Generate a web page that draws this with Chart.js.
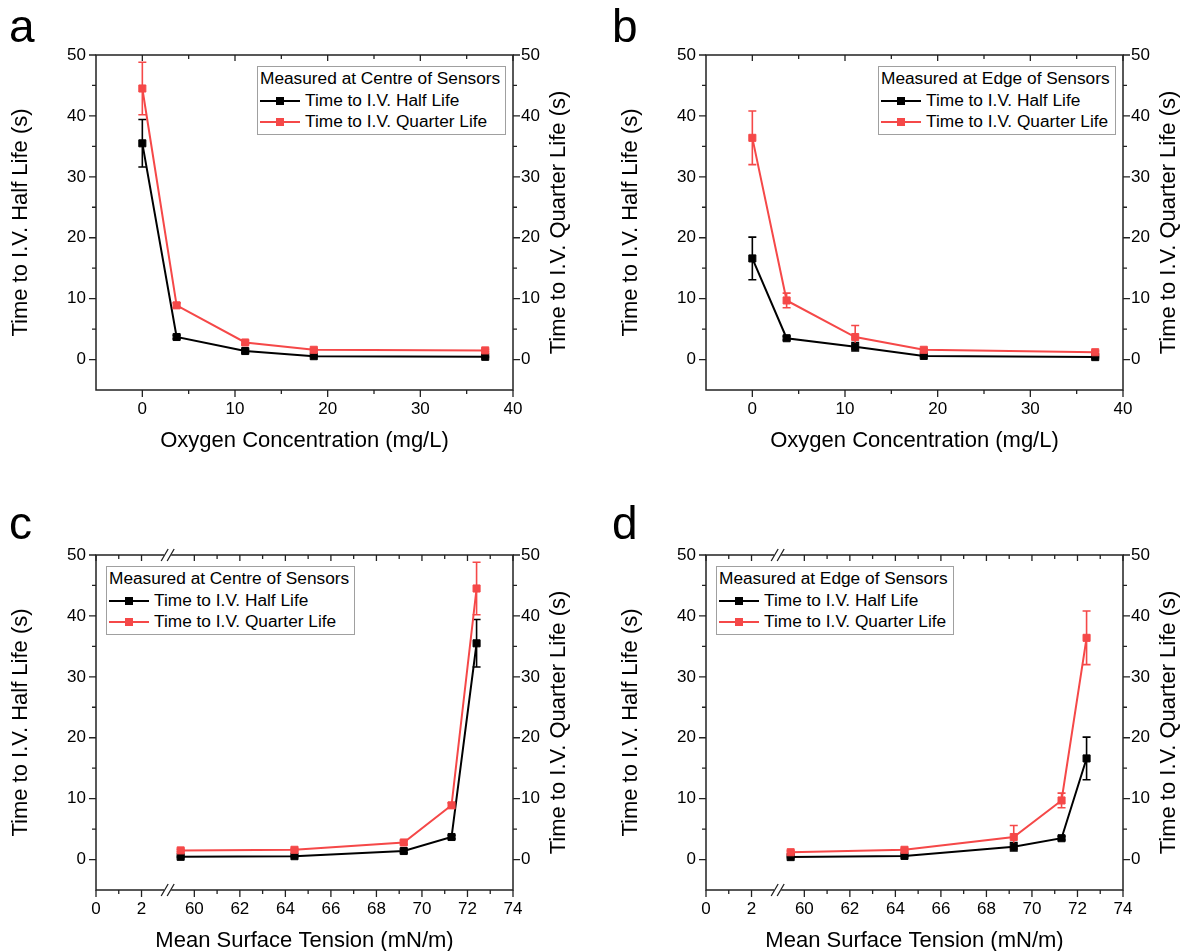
<!DOCTYPE html>
<html>
<head>
<meta charset="utf-8">
<script src="https://cdn.jsdelivr.net/npm/chart.js@4.4.1/dist/chart.umd.min.js"></script>
<style>
  html, body { margin: 0; padding: 0; background: #fff; overflow: hidden; }
  #wrap { position: relative; width: 1182px; height: 951px; overflow: hidden; font-family: 'Liberation Sans', Arial, sans-serif; }
  canvas { position: absolute; }
  .letter { position: absolute; font-size: 46px; line-height: 46px; color: #000; }
  .legend { position: absolute; border: 1px solid #a0a0a0; background: #fff; padding: 1px 5px 1px 2px;
            font-size: 17.3px; line-height: 21.5px; color: #000; white-space: nowrap; }
  .sw { display: inline-block; position: relative; width: 40px; height: 21px; vertical-align: top; margin-right: 5px; }
  .sw i { position: absolute; left: 0; right: 0; top: 10px; height: 2px; background: currentColor; }
  .sw b { position: absolute; left: 16px; top: 7px; width: 8px; height: 8px; background: currentColor; }
  .blk { color: #000; }
  .red { color: #f54848; }
  .legend span.txt { color: #000; }
</style>
</head>
<body>
<div id="wrap">
  <canvas id="ca" width="591" height="460" style="left:0;top:0"></canvas>
  <canvas id="cb" width="591" height="460" style="left:610px;top:0"></canvas>
  <canvas id="cc" width="591" height="460" style="left:0;top:500px"></canvas>
  <canvas id="cd" width="591" height="460" style="left:610px;top:500px"></canvas>
  <div class="letter" style="left:9px;top:3px">a</div>
  <div class="letter" style="left:612px;top:3px">b</div>
  <div class="letter" style="left:9px;top:500px">c</div>
  <div class="letter" style="left:612px;top:500px">d</div>
</div>
<script>
const oxygen = [0, 3.7, 11.1, 18.5, 37.0];
const tension = [72.4, 71.3, 69.2, 64.4, 59.4];

const centreHalf = [35.5, 3.7, 1.4, 0.55, 0.45];
const centreHalfErr = [3.9, 0.3, 0.3, 0.1, 0.1];
const centreQuarter = [44.5, 8.9, 2.8, 1.6, 1.5];
const centreQuarterErr = [4.3, 0.4, 0.3, 0.2, 0.2];

const edgeHalf = [16.6, 3.5, 2.1, 0.6, 0.4];
const edgeHalfErr = [3.5, 0.3, 0.7, 0.1, 0.1];
const edgeQuarter = [36.4, 9.7, 3.7, 1.6, 1.2];
const edgeQuarterErr = [4.4, 1.2, 1.9, 0.2, 0.2];

const oxygenTicks = [0, 10, 20, 30, 40];
const oxygenMinor = [5, 15, 25, 35];
const tensionTicks = [0, 2, 60, 62, 64, 66, 68, 70, 72, 74];
const tensionMinor = [1, 61, 63, 65, 67, 69, 71, 73];
const timeTicks = [0, 10, 20, 30, 40, 50];
const timeMinor = [5, 15, 25, 35, 45];

const halfName = 'Time to I.V. Half Life';
const quarterName = 'Time to I.V. Quarter Life';
const centreTitle = 'Measured at Centre of Sensors';
const edgeTitle = 'Measured at Edge of Sensors';

const leftTitle = 'Time to I.V. Half Life (s)';
const rightTitle = 'Time to I.V. Quarter Life (s)';
const oxygenTitle = 'Oxygen Concentration (mg/L)';
const tensionTitle = 'Mean Surface Tension (mN/m)';

const RED = '#f54848';
const FONT = "'Liberation Sans', Arial, sans-serif";

// broken axis: 0..3 then 58..74 squeezed next to it
const BREAK_SHIFT = 55.68;
const toVirtual = v => v > 30 ? v - BREAK_SHIFT : v;

function makeFrame(mapX, xCfg) {
  return {
    id: 'frame',
    afterDraw(chart) {
      const {ctx, chartArea: {left, right, top, bottom}, scales} = chart;
      ctx.save();
      ctx.strokeStyle = '#222';
      ctx.lineWidth = 1.5;
      ctx.strokeRect(left, top, right - left, bottom - top);

      ctx.lineWidth = 1.3;
      ctx.beginPath();
      const xt = (list, out, inn) => list.forEach(v => {
        const px = scales.x.getPixelForValue(mapX(v));
        ctx.moveTo(px, bottom); ctx.lineTo(px, bottom + out);
        ctx.moveTo(px, top); ctx.lineTo(px, top + inn);
      });
      const yt = (list, len) => list.forEach(v => {
        const py = scales.y.getPixelForValue(v);
        ctx.moveTo(left, py); ctx.lineTo(left - len, py);
        ctx.moveTo(right, py); ctx.lineTo(right + len, py);
      });
      xt(xCfg.ticks, 7, 6);
      xt(xCfg.minor, 4, 4);
      yt(timeTicks, 7);
      yt(timeMinor, 4);
      ctx.stroke();

      if (xCfg.breakAt != null) {
        const px = scales.x.getPixelForValue(xCfg.breakAt);
        [bottom, top].forEach(y => {
          ctx.fillStyle = '#fff';
          ctx.fillRect(px - 4, y - 2, 7, 4);
          ctx.beginPath();
          for (let i = 0; i < 2; i++) {
            const x0 = px - 7 + i * 6;
            ctx.moveTo(x0, y + 6);
            ctx.lineTo(x0 + 7, y - 6);
          }
          ctx.stroke();
        });
      }

      ctx.fillStyle = '#000';
      ctx.font = '22px ' + FONT;
      ctx.textAlign = 'center';
      ctx.textBaseline = 'middle';
      ctx.translate(right + 46, (top + bottom) / 2);
      ctx.rotate(-Math.PI / 2);
      ctx.fillText(rightTitle, 0, 0);
      ctx.restore();
    }
  };
}

function makeErrorBars(errs) {
  return {
    id: 'errorBars',
    beforeDatasetsDraw(chart) {
      const {ctx, scales} = chart;
      chart.data.datasets.forEach((ds, i) => {
        const meta = chart.getDatasetMeta(i);
        ctx.save();
        ctx.strokeStyle = ds.borderColor;
        ctx.lineWidth = 1.6;
        meta.data.forEach((pt, j) => {
          const e = errs[i][j];
          const y = ds.data[j].y;
          const y1 = scales.y.getPixelForValue(y + e);
          const y2 = scales.y.getPixelForValue(y - e);
          ctx.beginPath();
          ctx.moveTo(pt.x, y1); ctx.lineTo(pt.x, y2);
          ctx.moveTo(pt.x - 4, y1); ctx.lineTo(pt.x + 4, y1);
          ctx.moveTo(pt.x - 4, y2); ctx.lineTo(pt.x + 4, y2);
          ctx.stroke();
        });
        ctx.restore();
      });
    }
  };
}

function order(xs, mapX) {
  return xs.map((x, i) => i).sort((a, b) => mapX(xs[a]) - mapX(xs[b]));
}

function makePanel(id, xs, mapX, half, halfErr, quarter, quarterErr, xCfg) {
  const idx = order(xs, mapX);
  const pts = ys => idx.map(i => ({x: mapX(xs[i]), y: ys[i]}));
  const errs = [idx.map(i => halfErr[i]), idx.map(i => quarterErr[i])];
  const tickFont = {family: FONT, size: 17};
  const titleFont = {family: FONT, size: 22};
  const noGrid = {display: false, drawTicks: false};
  new Chart(document.getElementById(id), {
    type: 'line',
    data: {
      datasets: [
        {
          label: halfName,
          data: pts(half),
          borderColor: '#000',
          backgroundColor: '#000',
          borderWidth: 2,
          pointStyle: 'rect',
          pointRadius: 5,
          pointBorderWidth: 1,
          order: 1
        },
        {
          label: quarterName,
          data: pts(quarter),
          borderColor: RED,
          backgroundColor: RED,
          borderWidth: 2,
          pointStyle: 'rect',
          pointRadius: 5,
          pointBorderWidth: 1,
          order: 0
        }
      ]
    },
    options: {
      responsive: false,
      animation: false,
      devicePixelRatio: 1,
      layout: {padding: {top: 55, left: 0, right: 0, bottom: 6}},
      plugins: {
        legend: {display: false},
        tooltip: {enabled: false}
      },
      scales: {
        x: {
          type: 'linear',
          min: xCfg.min,
          max: xCfg.max,
          afterBuildTicks: s => { s.ticks = xCfg.ticks.map(v => ({value: mapX(v)})); },
          afterFit: s => { s.height = 64; },
          grid: noGrid,
          border: {display: false},
          ticks: {
            font: tickFont, color: '#000', padding: 9, maxRotation: 0, autoSkip: false,
            callback: (v, i) => xCfg.ticks[i]
          },
          title: {display: true, text: xCfg.title, font: titleFont, color: '#000', padding: {top: 0, bottom: 0}}
        },
        y: {
          type: 'linear',
          position: 'left',
          min: -5,
          max: 50,
          afterBuildTicks: s => { s.ticks = timeTicks.map(v => ({value: v})); },
          afterFit: s => { s.width = 96; },
          grid: noGrid,
          border: {display: false},
          ticks: {font: tickFont, color: '#000', padding: 10},
          title: {display: true, text: leftTitle, font: titleFont, color: '#000', padding: {top: 8, bottom: 0}}
        },
        y2: {
          type: 'linear',
          position: 'right',
          min: -5,
          max: 50,
          afterBuildTicks: s => { s.ticks = timeTicks.map(v => ({value: v})); },
          afterFit: s => { s.width = 78; },
          grid: noGrid,
          border: {display: false},
          ticks: {font: tickFont, color: '#000', padding: 8}
        }
      }
    },
    plugins: [makeErrorBars(errs), makeFrame(mapX, xCfg)]
  });
}

function makeLegend(left, top, title) {
  const div = document.createElement('div');
  div.className = 'legend';
  div.style.left = left + 'px';
  div.style.top = top + 'px';
  div.innerHTML =
    '<div>' + title + '</div>' +
    '<div><span class="sw blk"><i></i><b></b></span><span class="txt">' + halfName + '</span></div>' +
    '<div><span class="sw red"><i></i><b></b></span><span class="txt">' + quarterName + '</span></div>';
  document.getElementById('wrap').appendChild(div);
}

const same = v => v;
const oxygenAxis = {min: -5, max: 40, ticks: oxygenTicks, minor: oxygenMinor, breakAt: null, title: oxygenTitle};
const tensionAxis = {min: 0, max: toVirtual(74), ticks: tensionTicks, minor: tensionMinor, breakAt: 3.17, title: tensionTitle};

makePanel('ca', oxygen, same, centreHalf, centreHalfErr, centreQuarter, centreQuarterErr, oxygenAxis);
makePanel('cb', oxygen, same, edgeHalf, edgeHalfErr, edgeQuarter, edgeQuarterErr, oxygenAxis);
makePanel('cc', tension, toVirtual, centreHalf, centreHalfErr, centreQuarter, centreQuarterErr, tensionAxis);
makePanel('cd', tension, toVirtual, edgeHalf, edgeHalfErr, edgeQuarter, edgeQuarterErr, tensionAxis);

makeLegend(257, 66, centreTitle);
makeLegend(878, 66, edgeTitle);
makeLegend(106, 566, centreTitle);
makeLegend(716, 566, edgeTitle);
</script>
</body>
</html>
